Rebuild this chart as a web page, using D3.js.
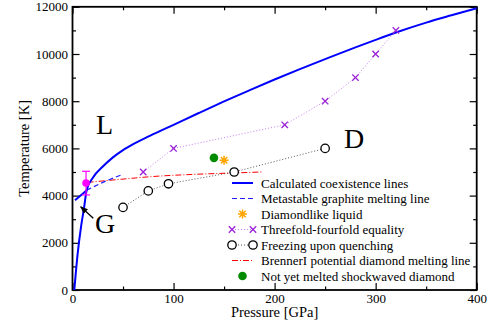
<!DOCTYPE html>
<html>
<head>
<meta charset="utf-8">
<script src="https://cdn.jsdelivr.net/npm/d3@7"></script>
<style>
  body { margin: 0; background: white; }
  svg text { font-family: "Liberation Serif", "DejaVu Serif", serif; fill: black; }
</style>
</head>
<body>
<div id="chart"></div>
<script>
// Data (pressure in GPa, temperature in K)
var diamondP = [1.8, 5, 8.5, 11.5, 14, 20, 30, 40, 50, 60, 77, 100, 125, 150, 175, 200, 225, 255, 280, 300, 320, 350, 375, 400];
var diamondT = [0, 1500, 2700, 3500, 4230, 4750, 5230, 5620, 5930, 6180, 6540, 7000, 7500, 7990, 8460, 8920, 9360, 9870, 10280, 10600, 10910, 11330, 11640, 11940];

var graphiteP = [2.5, 8, 14];
var graphiteT = [3800, 4000, 4230];

var metaP = [14, 30, 48];
var metaT = [4230, 4560, 4870];

var brennerP = [15, 50, 80, 120, 160, 187];
var brennerT = [4560, 4700, 4810, 4900, 4960, 5000];

var threefoldP = [70, 100, 210, 250, 280, 300, 320];
var threefoldT = [5000, 6000, 7000, 8000, 9000, 10000, 11000];

var freezeP = [50, 75, 95, 160, 250];
var freezeT = [3500, 4200, 4500, 5000, 6000];

var liquidP = [150], liquidT = [5500];
var shockP = [140], shockT = [5600];

var expP = 13.4, expT = 4530, expErr = 500;

var xTicks = [0, 100, 200, 300, 400];
var yTicks = [0, 2000, 4000, 6000, 8000, 10000, 12000];

var legendLabels = [
  "Calculated coexistence lines",
  "Metastable graphite melting line",
  "Diamondlike liquid",
  "Threefold-fourfold equality",
  "Freezing upon quenching",
  "BrennerI potential diamond melting line",
  "Not yet melted shockwaved diamond"
];

var width = 492, height = 328;
var plotLeft = 72.5, plotRight = 476.7, plotTop = 6.8, plotBottom = 290;

var svg = d3.select("#chart").append("svg")
  .attr("width", width)
  .attr("height", height);

var x = d3.scaleLinear().domain([0, 400]).range([plotLeft, plotRight]);
var y = d3.scaleLinear().domain([0, 12000]).range([plotBottom, plotTop]);

function pts(P, T) { return P.map(function(p, i) { return [p, T[i]]; }); }

var line = d3.line()
  .x(function(d) { return x(d[0]); })
  .y(function(d) { return y(d[1]); })
  .curve(d3.curveMonotoneX);

var straight = d3.line()
  .x(function(d) { return x(d[0]); })
  .y(function(d) { return y(d[1]); });

// Ticks on all four sides, pointing in
var xMinor = d3.range(50, 400, 100);
var yMinor = d3.range(1000, 12000, 2000);

function noDomain(g) { g.select(".domain").remove(); g.attr("font-family", null); }

svg.append("g").attr("transform", "translate(0," + plotBottom + ")")
  .call(d3.axisBottom(x).tickValues(xTicks).tickSizeInner(-7).tickSizeOuter(0).tickPadding(3.5).tickFormat(d3.format("d")))
  .call(noDomain);
svg.append("g").attr("transform", "translate(0," + plotBottom + ")")
  .call(d3.axisBottom(x).tickValues(xMinor).tickSizeInner(-3.5).tickSizeOuter(0).tickFormat(""))
  .call(noDomain);
svg.append("g").attr("transform", "translate(0," + plotTop + ")")
  .call(d3.axisTop(x).tickValues(xTicks).tickSizeInner(-7).tickSizeOuter(0).tickFormat(""))
  .call(noDomain);
svg.append("g").attr("transform", "translate(0," + plotTop + ")")
  .call(d3.axisTop(x).tickValues(xMinor).tickSizeInner(-3.5).tickSizeOuter(0).tickFormat(""))
  .call(noDomain);

svg.append("g").attr("transform", "translate(" + plotLeft + ",0)")
  .call(d3.axisLeft(y).tickValues(yTicks).tickSizeInner(-7).tickSizeOuter(0).tickPadding(4.5).tickFormat(d3.format("d")))
  .call(noDomain);
svg.append("g").attr("transform", "translate(" + plotLeft + ",0)")
  .call(d3.axisLeft(y).tickValues(yMinor).tickSizeInner(-3.5).tickSizeOuter(0).tickFormat(""))
  .call(noDomain);
svg.append("g").attr("transform", "translate(" + plotRight + ",0)")
  .call(d3.axisRight(y).tickValues(yTicks).tickSizeInner(-7).tickSizeOuter(0).tickFormat(""))
  .call(noDomain);
svg.append("g").attr("transform", "translate(" + plotRight + ",0)")
  .call(d3.axisRight(y).tickValues(yMinor).tickSizeInner(-3.5).tickSizeOuter(0).tickFormat(""))
  .call(noDomain);

svg.selectAll(".tick line").attr("stroke", "black").attr("stroke-width", 1.2);
svg.selectAll(".tick text").style("font-size", "13px").style("font-family", "'Liberation Serif', serif");

// Frame
svg.append("rect")
  .attr("x", plotLeft).attr("y", plotTop)
  .attr("width", plotRight - plotLeft).attr("height", plotBottom - plotTop)
  .attr("fill", "none").attr("stroke", "black").attr("stroke-width", 1.8);

// Axis titles
svg.append("text")
  .attr("text-anchor", "middle")
  .attr("x", (plotLeft + plotRight) / 2)
  .attr("y", 317)
  .style("font-size", "14.5px")
  .text("Pressure [GPa]");

svg.append("text")
  .attr("text-anchor", "middle")
  .attr("transform", "translate(29," + (plotTop + plotBottom) / 2 + ") rotate(-90)")
  .style("font-size", "14.5px")
  .text("Temperature [K]");

var plot = svg.append("g");

// Threefold-fourfold equality
plot.append("path")
  .attr("d", straight(pts(threefoldP, threefoldT)))
  .attr("fill", "none").attr("stroke", "#c87ef0").attr("stroke-width", 1)
  .attr("stroke-dasharray", "1,2");

// Freezing upon quenching
plot.append("path")
  .attr("d", straight(pts(freezeP, freezeT)))
  .attr("fill", "none").attr("stroke", "#555").attr("stroke-width", 1)
  .attr("stroke-dasharray", "1,2");

// Brenner diamond melting line
plot.append("path")
  .attr("d", line(pts(brennerP, brennerT)))
  .attr("fill", "none").attr("stroke", "#ff0000").attr("stroke-width", 1)
  .attr("stroke-dasharray", "6,2,1,2");

// Metastable graphite melting line
plot.append("path")
  .attr("d", line(pts(metaP, metaT)))
  .attr("fill", "none").attr("stroke", "#2020ff").attr("stroke-width", 1.2)
  .attr("stroke-dasharray", "5,3");

// Coexistence lines
plot.append("path")
  .attr("d", line(pts(graphiteP, graphiteT)))
  .attr("fill", "none").attr("stroke", "#0000ff").attr("stroke-width", 2);
plot.append("path")
  .attr("d", line(pts(diamondP, diamondT)))
  .attr("fill", "none").attr("stroke", "#0000ff").attr("stroke-width", 2);

// Markers
var xMark = "M-3.2,-3.2L3.2,3.2M-3.2,3.2L3.2,-3.2";
var starMark = "M0,-4.5L0,4.5M-4.5,0L4.5,0M-3.2,-3.2L3.2,3.2M-3.2,3.2L3.2,-3.2";

plot.selectAll(".tf").data(pts(threefoldP, threefoldT)).enter().append("path")
  .attr("transform", function(d) { return "translate(" + x(d[0]) + "," + y(d[1]) + ")"; })
  .attr("d", xMark).attr("stroke", "#9a1fd6").attr("stroke-width", 1.3).attr("fill", "none");

plot.selectAll(".fz").data(pts(freezeP, freezeT)).enter().append("circle")
  .attr("cx", function(d) { return x(d[0]); })
  .attr("cy", function(d) { return y(d[1]); })
  .attr("r", 4.2)
  .attr("fill", "white").attr("stroke", "black").attr("stroke-width", 1.3);

plot.selectAll(".sh").data(pts(shockP, shockT)).enter().append("circle")
  .attr("cx", function(d) { return x(d[0]); })
  .attr("cy", function(d) { return y(d[1]); })
  .attr("r", 4.3)
  .attr("fill", "#008a00");

plot.selectAll(".lq").data(pts(liquidP, liquidT)).enter().append("path")
  .attr("transform", function(d) { return "translate(" + x(d[0]) + "," + y(d[1]) + ")"; })
  .attr("d", starMark).attr("stroke", "#ffa500").attr("stroke-width", 1.5);

// Experimental point with error bar
var ex = x(expP);
plot.append("line")
  .attr("x1", ex).attr("x2", ex)
  .attr("y1", y(expT + expErr)).attr("y2", y(expT - expErr))
  .attr("stroke", "#ff00ff").attr("stroke-width", 1.2);
[expT + expErr, expT - expErr].forEach(function(t) {
  plot.append("line")
    .attr("x1", ex - 4).attr("x2", ex + 4)
    .attr("y1", y(t)).attr("y2", y(t))
    .attr("stroke", "#ff00ff").attr("stroke-width", 1.2);
});
plot.append("circle")
  .attr("cx", ex).attr("cy", y(expT)).attr("r", 3.8)
  .attr("fill", "#ff00ff");

// Phase labels
svg.append("text").attr("x", 96).attr("y", 134).style("font-size", "28px").text("L");
svg.append("text").attr("x", 344).attr("y", 148).style("font-size", "28px").text("D");
svg.append("text").attr("x", 95).attr("y", 233).style("font-size", "28px").text("G");

// Arrow from G
svg.append("defs").append("marker")
  .attr("id", "arrowhead")
  .attr("viewBox", "0 0 10 10")
  .attr("refX", 9).attr("refY", 5)
  .attr("markerWidth", 6).attr("markerHeight", 6)
  .attr("orient", "auto")
  .append("path").attr("d", "M0,1L10,5L0,9Z").attr("fill", "black");
svg.append("line")
  .attr("x1", 93.3).attr("y1", 218.3)
  .attr("x2", 80.7).attr("y2", 206.7)
  .attr("stroke", "black").attr("stroke-width", 1.3)
  .attr("marker-end", "url(#arrowhead)");

// Legend
var legend = svg.append("g");
var lx0 = 232, lx1 = 253, ltx = 261, ly0 = 183, ldy = 15.5;

legendLabels.forEach(function(label, i) {
  var ly = ly0 + i * ldy;
  legend.append("text")
    .attr("x", ltx).attr("y", ly)
    .attr("dy", "0.35em")
    .style("font-size", "13px")
    .text(label);

  if (i === 0) {
    legend.append("line").attr("x1", lx0).attr("x2", lx1).attr("y1", ly).attr("y2", ly)
      .attr("stroke", "#0000ff").attr("stroke-width", 2);
  } else if (i === 1) {
    legend.append("line").attr("x1", lx0).attr("x2", lx1).attr("y1", ly).attr("y2", ly)
      .attr("stroke", "#2020ff").attr("stroke-width", 1.2).attr("stroke-dasharray", "5,3");
  } else if (i === 2) {
    legend.append("path").attr("transform", "translate(" + (lx0 + lx1) / 2 + "," + ly + ")")
      .attr("d", starMark).attr("stroke", "#ffa500").attr("stroke-width", 1.5);
  } else if (i === 3) {
    legend.append("line").attr("x1", lx0).attr("x2", lx1).attr("y1", ly).attr("y2", ly)
      .attr("stroke", "#c87ef0").attr("stroke-width", 1).attr("stroke-dasharray", "1,2");
    [lx0, lx1].forEach(function(px) {
      legend.append("path").attr("transform", "translate(" + px + "," + ly + ")")
        .attr("d", xMark).attr("stroke", "#9a1fd6").attr("stroke-width", 1.3);
    });
  } else if (i === 4) {
    legend.append("line").attr("x1", lx0).attr("x2", lx1).attr("y1", ly).attr("y2", ly)
      .attr("stroke", "#555").attr("stroke-width", 1).attr("stroke-dasharray", "1,2");
    [lx0, lx1].forEach(function(px) {
      legend.append("circle").attr("cx", px).attr("cy", ly).attr("r", 4.2)
        .attr("fill", "white").attr("stroke", "black").attr("stroke-width", 1.3);
    });
  } else if (i === 5) {
    legend.append("line").attr("x1", lx0).attr("x2", lx1).attr("y1", ly).attr("y2", ly)
      .attr("stroke", "#ff0000").attr("stroke-width", 1).attr("stroke-dasharray", "6,2,1,2");
  } else {
    legend.append("circle").attr("cx", (lx0 + lx1) / 2).attr("cy", ly).attr("r", 4.3)
      .attr("fill", "#008a00");
  }
});
</script>
</body>
</html>
